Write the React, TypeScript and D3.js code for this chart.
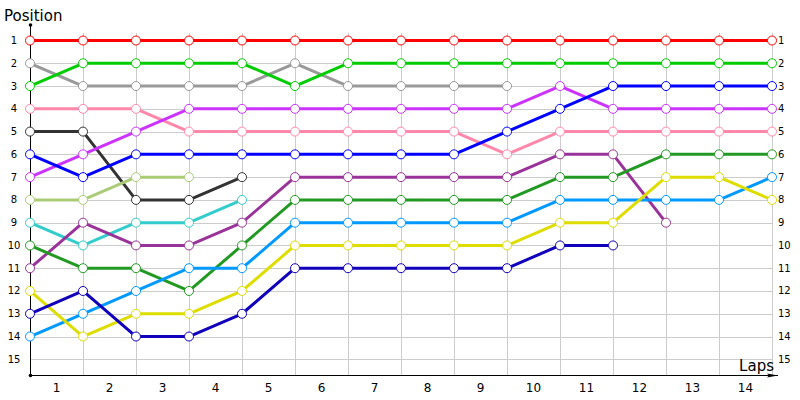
import React from "react";
import * as d3 from "d3";

const laps = [1, 2, 3, 4, 5, 6, 7, 8, 9, 10, 11, 12, 13, 14];
const positions = [1, 2, 3, 4, 5, 6, 7, 8, 9, 10, 11, 12, 13, 14, 15];

const redPos = [1, 1, 1, 1, 1, 1, 1, 1, 1, 1, 1, 1, 1, 1, 1];
const greenPos = [3, 2, 2, 2, 2, 3, 2, 2, 2, 2, 2, 2, 2, 2, 2];
const grayPos = [2, 3, 3, 3, 3, 2, 3, 3, 3, 3];
const pinkPos = [4, 4, 4, 5, 5, 5, 5, 5, 5, 6, 5, 5, 5, 5, 5];
const blackPos = [5, 5, 8, 8, 7];
const bluePos = [6, 7, 6, 6, 6, 6, 6, 6, 6, 5, 4, 3, 3, 3, 3];
const magentaPos = [7, 6, 5, 4, 4, 4, 4, 4, 4, 4, 3, 4, 4, 4, 4];
const olivePos = [8, 8, 7, 7];
const cyanPos = [9, 10, 9, 9, 8];
const purplePos = [11, 9, 10, 10, 9, 7, 7, 7, 7, 7, 6, 6, 9];
const darkGreenPos = [10, 11, 11, 12, 10, 8, 8, 8, 8, 8, 7, 7, 6, 6, 6];
const yellowPos = [12, 14, 13, 13, 12, 10, 10, 10, 10, 10, 9, 9, 7, 7, 8];
const darkBluePos = [13, 12, 14, 14, 13, 11, 11, 11, 11, 11, 10, 10];
const lightBluePos = [14, 13, 12, 11, 11, 9, 9, 9, 9, 9, 8, 8, 8, 8, 7];

const seriesList = [
  { color: "#ff0000", values: redPos },
  { color: "#999999", values: grayPos },
  { color: "#00cc00", values: greenPos },
  { color: "#ff88aa", values: pinkPos },
  { color: "#333333", values: blackPos },
  { color: "#cc33ff", values: magentaPos },
  { color: "#0000ff", values: bluePos },
  { color: "#aacc77", values: olivePos },
  { color: "#33cccc", values: cyanPos },
  { color: "#993399", values: purplePos },
  { color: "#229922", values: darkGreenPos },
  { color: "#0099ff", values: lightBluePos },
  { color: "#dddd00", values: yellowPos },
  { color: "#1100bb", values: darkBluePos },
];

const W = 800;
const H = 400;
const x0 = 30;
const x14 = 772;
const axisY = 375;

export default function App() {
  const x = d3.scaleLinear().domain([0, 14]).range([x0, x14]);
  const y = d3.scaleLinear().domain([1, 15]).range([40.5, 359.3]);
  const line = d3
    .line<number>()
    .x((_, i) => x(i))
    .y((d) => y(d));
  const font = "'DejaVu Sans', Verdana, sans-serif";

  return (
    <svg
      width={W}
      height={H}
      style={{ position: "absolute", left: 0, top: 0, background: "#fff" }}
    >
      {/* horizontal grid */}
      {positions.map((p) => (
        <line
          key={"h" + p}
          x1={x0}
          x2={x14}
          y1={Math.round(y(p)) + 0.5}
          y2={Math.round(y(p)) + 0.5}
          stroke="#cccccc"
          strokeWidth={1}
        />
      ))}
      {/* vertical grid */}
      {d3.range(1, 15).map((i) => (
        <line
          key={"v" + i}
          x1={Math.round(x(i)) + 0.5}
          x2={Math.round(x(i)) + 0.5}
          y1={33}
          y2={axisY}
          stroke="#cccccc"
          strokeWidth={1}
        />
      ))}
      {/* axes */}
      <line x1={x0 + 0.5} x2={x0 + 0.5} y1={25} y2={axisY} stroke="#000" strokeWidth={1} />
      <line x1={x0} x2={778} y1={axisY + 0.5} y2={axisY + 0.5} stroke="#000" strokeWidth={1} />
      <circle cx={x0 + 0.5} cy={25} r={1.8} fill="#000" />
      <circle cx={x0 + 0.5} cy={axisY + 0.5} r={1.8} fill="#000" />
      <path d={`M778,${axisY + 0.5} L767,${axisY - 1.5} L769,${axisY + 0.5} L767,${axisY + 2.5} Z`} fill="#000" />

      {/* titles */}
      <text x={4} y={21} fontFamily={font} fontSize={15} fill="#000">
        Position
      </text>
      <text x={774} y={371} textAnchor="end" fontFamily={font} fontSize={15} fill="#000">
        Laps
      </text>

      {/* left tick labels */}
      {positions.map((p) => (
        <text
          key={"l" + p}
          x={14}
          y={y(p)}
          dy="0.35em"
          textAnchor="middle"
          fontFamily={font}
          fontSize={10}
          fill="#000"
        >
          {p}
        </text>
      ))}
      {/* right tick labels */}
      {positions.map((p) => (
        <text
          key={"r" + p}
          x={778}
          y={y(p)}
          dy="0.35em"
          textAnchor="start"
          fontFamily={font}
          fontSize={10}
          fill="#000"
        >
          {p}
        </text>
      ))}
      {/* lap labels */}
      {laps.map((l) => (
        <text
          key={"lap" + l}
          x={(x(l - 1) + x(l)) / 2}
          y={392}
          textAnchor="middle"
          fontFamily={font}
          fontSize={12}
          fill="#000"
        >
          {l}
        </text>
      ))}

      {/* series lines */}
      {seriesList.map((s, si) => (
        <path
          key={"s" + si}
          d={line(s.values) || ""}
          fill="none"
          stroke={s.color}
          strokeWidth={3}
          strokeLinejoin="round"
        />
      ))}
      {/* markers */}
      {seriesList.map((s, si) => (
        <g key={"m" + si}>
          {s.values.map((v, i) => (
            <circle
              key={i}
              cx={x(i)}
              cy={y(v)}
              r={4.5}
              fill="#fff"
              stroke={s.color}
              strokeWidth={1}
            />
          ))}
        </g>
      ))}
    </svg>
  );
}
